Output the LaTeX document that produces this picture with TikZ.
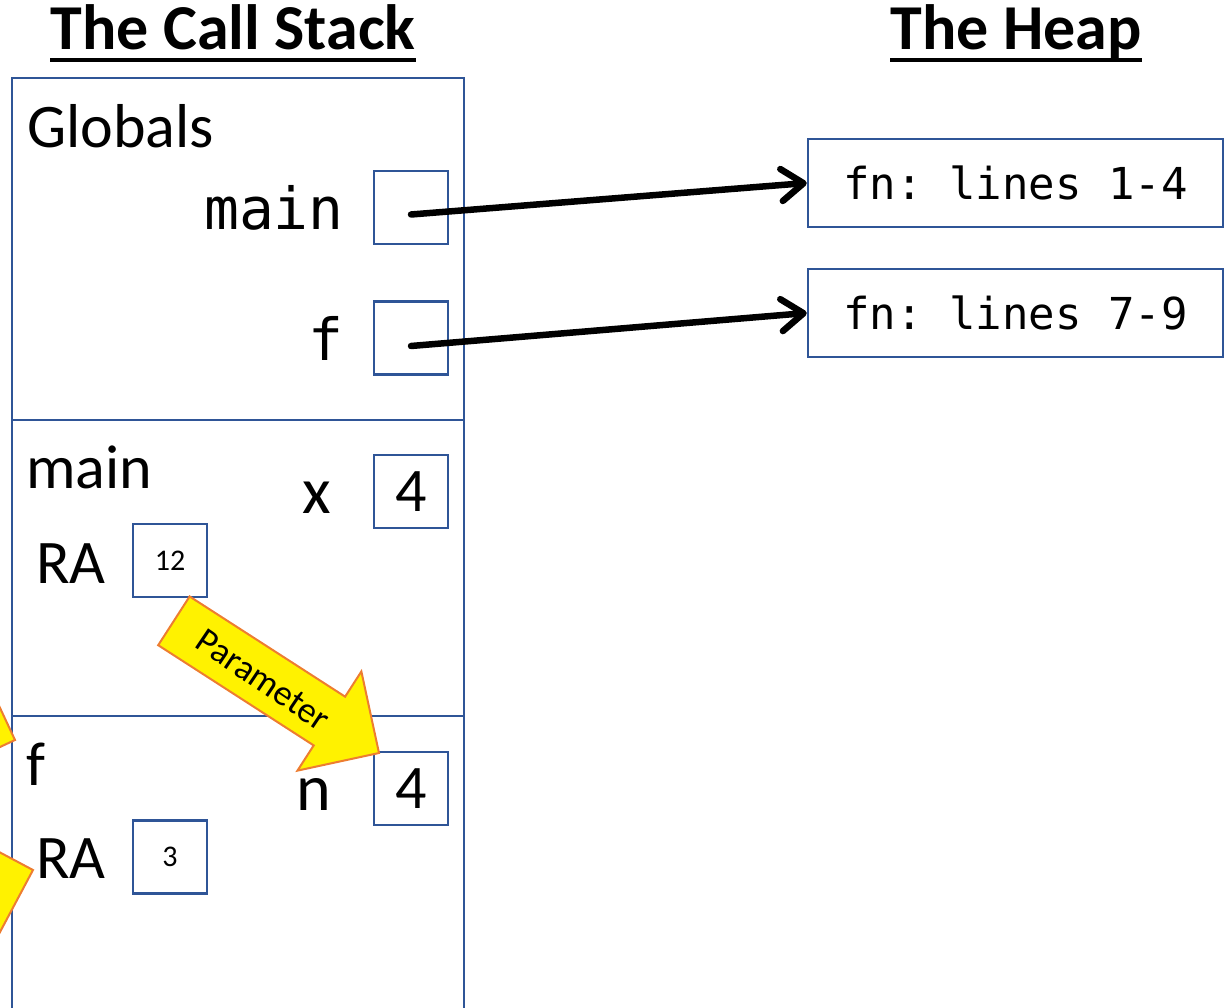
\documentclass[tikz,border=0pt]{standalone}
\usepackage{fontspec}
\setmainfont{Carlito}
\setmonofont{DejaVu Sans Mono}
\usetikzlibrary{positioning,arrows.meta}
\definecolor{frameblue}{RGB}{47,85,151}
\definecolor{argorange}{RGB}{237,125,49}

\begin{document}
\begin{tikzpicture}[x=1pt, y=-1pt,
  frame/.style={draw=frameblue, line width=2.5pt},
  cell/.style={draw=frameblue, line width=2.5pt, minimum width=74pt, minimum height=73pt, inner sep=0pt, font=\fontsize{62}{70}\selectfont},
  heapcell/.style={draw=frameblue, line width=2.5pt, minimum width=415pt, minimum height=88pt, inner sep=0pt, font=\ttfamily\fontsize{44}{50}\selectfont},
  txt/.style={inner sep=0pt, font=\fontsize{62}{70}\selectfont},
  code/.style={inner sep=0pt, font=\ttfamily\fontsize{58}{66}\selectfont},
  small/.style={font=\fontsize{30}{36}\selectfont},
  title/.style={inner sep=0pt, font=\bfseries\fontsize{64}{72}\selectfont},
  ptr/.style={line width=6.5pt, line cap=round, -{Straight Barb[round, length=22pt, width=32pt]}},
  blk/.style={draw=argorange, fill=yellow, line width=2pt, line join=miter},
  blktxt/.style={inner sep=0pt, font=\fontsize{36}{40}\selectfont}]
\useasboundingbox (0,0) rectangle (1232,1008);
\clip (0,0) rectangle (1232,1008);

% titles
\node[title, anchor=base] (cstitle) at (233,50) {The Call Stack};
\draw[line width=3.5pt] ([yshift=-10pt]cstitle.base west) -- ([yshift=-10pt]cstitle.base east);
\node[title, anchor=base] (hptitle) at (1016,50) {The Heap};
\draw[line width=3.5pt] ([yshift=-10pt]hptitle.base west) -- ([yshift=-10pt]hptitle.base east);

% stack frames
\draw[frame] (12,1020) -- (12,78) -- (464,78) -- (464,1020);
\draw[frame] (12,420) -- (464,420);
\draw[frame] (12,716) -- (464,716);

% globals
\node[txt, anchor=base west] (glob) at (27,148) {Globals};
\node[cell] (gmain) at (411,207.5) {};
\node[code, anchor=base east] (gmainlbl) at (344,230) {main};
\node[cell] (gf) at (411,338) {};
\node[code, anchor=base east] (gflbl) at (344,360) {f};

% heap
\node[heapcell] (fn1) at (1015.5,183) {fn: lines 1-4};
\node[heapcell, below=39.5pt of fn1] (fn2) {fn: lines 7-9};

\draw[ptr] ([yshift=-7pt]gmain.center) -- (fn1.west);
\draw[ptr] ([yshift=-8pt]gf.center) -- (fn2.west);

% main
\node[txt, anchor=base west] (mainlbl) at (26,488) {main};
\node[cell] (xcell) at (411,491.5) {4};
\node[txt, anchor=base east] (xlbl) at (331,513) {\fontsize{66}{70}\selectfont x};
\node[cell, small] (ra1) at (170,560.5) {12};
\node[txt, anchor=base west] (ra1lbl) at (36,583) {RA};

% f
\node[txt, anchor=base west] (flbl) at (26,785) {f};
\node[cell] (ncell) at (411,788.5) {4};
\node[txt, anchor=base east] (nlbl) at (331,810) {\fontsize{66}{70}\selectfont n};
\node[cell, small] (ra2) at (170,857) {3};
\node[txt, anchor=base west] (ra2lbl) at (36,878) {RA};

% block arrows (tip at the origin of each scope)
\begin{scope}[shift={(379,753)}, rotate=-32.8]
  \filldraw[blk] (0,0) -- (-59,-59) -- (-59,-29) -- (-244,-29) -- (-244,29) -- (-59,29) -- (-59,59) -- cycle;
\end{scope}
\node[blktxt, rotate=-34] (parg) at (263,680) {Parameter};
\begin{scope}[shift={(15,740)}, rotate=-20]
  \filldraw[blk] (0,0) -- (-59,-59) -- (-59,-29) -- (-300,-29) -- (-300,29) -- (-59,29) -- (-59,59) -- cycle;
\end{scope}
\begin{scope}[shift={(33,870)}, rotate=17]
  \filldraw[blk] (0,0) -- (-59,-59) -- (-59,-29) -- (-300,-29) -- (-300,29) -- (-59,29) -- (-59,59) -- cycle;
\end{scope}
\end{tikzpicture}
\end{document}
